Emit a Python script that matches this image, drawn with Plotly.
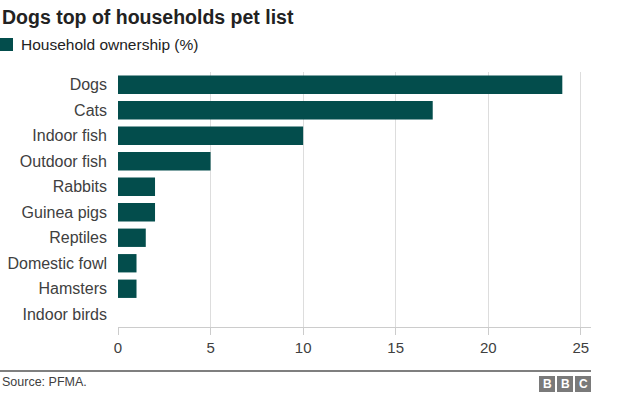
import plotly.graph_objects as go

categories = ["Dogs", "Cats", "Indoor fish", "Outdoor fish", "Rabbits",
              "Guinea pigs", "Reptiles", "Domestic fowl", "Hamsters", "Indoor birds"]
values = [24, 17, 10, 5, 2, 2, 1.5, 1, 1, 0]
tick_vals = [0, 5, 10, 15, 20, 25]

BAR = "#034d4c"
FONT = "Liberation Sans, Arial, sans-serif"

fig = go.Figure(go.Bar(
    y=categories, x=values, orientation="h",
    marker=dict(color=BAR, line=dict(width=0)),
    showlegend=False,
))

W, H = 624, 395
L, R, T, B = 118, 33, 72, 68
PW, PH = W - L - R, H - T - B

fig.update_layout(
    width=W, height=H,
    margin=dict(l=L, r=R, t=T, b=B, pad=0, autoexpand=False),
    paper_bgcolor="white", plot_bgcolor="white",
    bargap=0.28,
    font=dict(family=FONT, size=14, color="#404040"),
    xaxis=dict(range=[0, 25.55], tickvals=tick_vals, showgrid=True,
               gridcolor="#dddddd", gridwidth=1, zeroline=False,
               showline=True, linecolor="#cccccc", linewidth=1,
               ticks="outside", ticklen=7, tickcolor="#cccccc",
               tickfont=dict(size=15, color="#404040"), fixedrange=True,
               automargin=False),
    yaxis=dict(autorange="reversed", showgrid=False, zeroline=False,
               showline=False, ticks="", ticklabelstandoff=10,
               tickfont=dict(size=16, color="#404040"), fixedrange=True,
               automargin=False),
)

def px_x(p):
    return (p - L) / PW

def px_y(p):
    return 1 - (p - T) / PH

annotations = [
    dict(text="<b>Dogs top of households pet list</b>", x=px_x(0), y=px_y(17),
         xref="paper", yref="paper", xanchor="left", yanchor="middle",
         showarrow=False, font=dict(size=19.5, color="#222222", family=FONT)),
    dict(text="Household ownership (%)", x=px_x(19), y=px_y(45),
         xref="paper", yref="paper", xanchor="left", yanchor="middle",
         showarrow=False, font=dict(size=15.5, color="#222222", family=FONT)),
    dict(text="Source: PFMA.", x=px_x(0), y=px_y(382),
         xref="paper", yref="paper", xanchor="left", yanchor="middle",
         showarrow=False, font=dict(size=12.5, color="#404040", family=FONT)),
]

shapes = [
    dict(type="rect", xref="paper", yref="paper",
         x0=px_x(0), x1=px_x(13), y0=px_y(51), y1=px_y(38),
         fillcolor=BAR, line=dict(width=0)),
    dict(type="line", xref="paper", yref="paper",
         x0=px_x(0), x1=px_x(591), y0=px_y(371), y1=px_y(371),
         line=dict(color="#000000", width=1.2)),
]

for i, letter in enumerate(["B", "B", "C"]):
    x0 = 539 + i * 18
    shapes.append(dict(type="rect", xref="paper", yref="paper",
                       x0=px_x(x0), x1=px_x(x0 + 16), y0=px_y(392), y1=px_y(376),
                       fillcolor="#7a7a7a", line=dict(width=0)))
    annotations.append(dict(text="<b>%s</b>" % letter, x=px_x(x0 + 8), y=px_y(384),
                            xref="paper", yref="paper", xanchor="center", yanchor="middle",
                            showarrow=False, font=dict(size=12, color="white", family=FONT)))

fig.update_layout(annotations=annotations, shapes=shapes)

fig.write_html("out.html", config={"displayModeBar": False},
               post_script="document.body.style.margin='0';")
